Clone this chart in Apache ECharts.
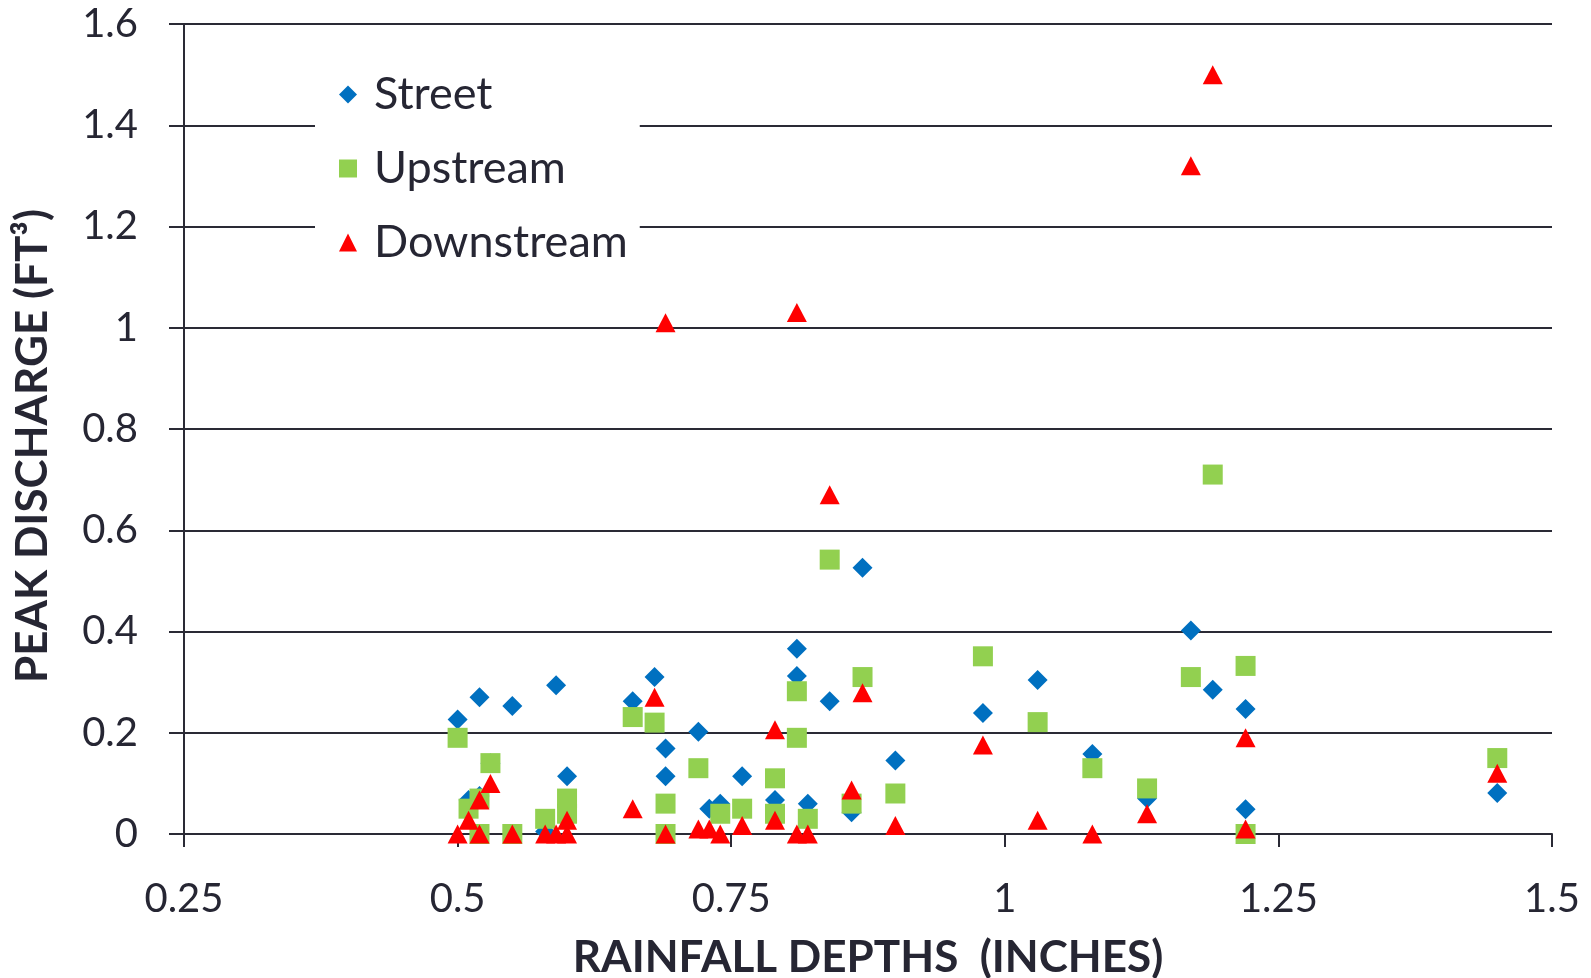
<!DOCTYPE html>
<html><head><meta charset="utf-8">
<script src="https://cdn.jsdelivr.net/npm/echarts@6/dist/echarts.min.js"></script>
<style>html,body{margin:0;padding:0;background:#fff}#c{width:1591px;height:978px}</style>
</head><body><div id="c"></div>
<script>
const seriesNames = ['Street', 'Upstream', 'Downstream'];
const streetX = [0.50,0.51,0.52,0.52,0.53,0.55,0.58,0.59,0.60,0.66,0.68,0.69,0.69,0.72,0.73,0.74,0.76,0.79,0.81,0.81,0.82,0.84,0.86,0.87,0.90,0.98,1.03,1.08,1.13,1.17,1.19,1.22,1.22,1.45];
const streetY = [0.226,0.067,0.075,0.27,0.14,0.253,0.005,0.294,0.114,0.262,0.31,0.169,0.114,0.202,0.05,0.06,0.114,0.067,0.366,0.312,0.06,0.262,0.043,0.526,0.145,0.239,0.304,0.158,0.07,0.402,0.285,0.247,0.049,0.081];
const upstreamX = [0.50,0.51,0.52,0.52,0.53,0.55,0.58,0.60,0.60,0.66,0.68,0.69,0.69,0.72,0.74,0.76,0.79,0.79,0.81,0.81,0.82,0.84,0.86,0.87,0.90,0.98,1.03,1.08,1.13,1.17,1.19,1.22,1.22,1.45];
const upstreamY = [0.19,0.05,0.07,0.0,0.14,0.0,0.03,0.07,0.04,0.231,0.22,0.06,0.0,0.13,0.04,0.05,0.11,0.04,0.282,0.19,0.03,0.542,0.06,0.31,0.08,0.351,0.221,0.13,0.09,0.31,0.71,0.332,0.0,0.15];
const downstreamX = [0.50,0.51,0.52,0.52,0.53,0.55,0.58,0.59,0.60,0.60,0.66,0.68,0.69,0.69,0.72,0.73,0.74,0.76,0.79,0.79,0.81,0.81,0.82,0.84,0.86,0.87,0.90,0.98,1.03,1.08,1.13,1.17,1.19,1.22,1.22,1.45];
const downstreamY = [0.0,0.027,0.067,0.0,0.10,0.0,0.0,0.0,0.0,0.027,0.05,0.27,1.01,0.0,0.01,0.01,0.0,0.017,0.206,0.027,1.03,0.0,0.0,0.67,0.087,0.279,0.017,0.176,0.027,0.0,0.04,1.32,1.5,0.19,0.01,0.12];
const xTicks = [0.25, 0.5, 0.75, 1, 1.25, 1.5];
const yTicks = [0, 0.2, 0.4, 0.6, 0.8, 1, 1.2, 1.4, 1.6];

const zip = (xs, ys) => xs.map((x, i) => [x, ys[i]]);
const lineCol = '#2a2a35';
const txtCol = '#262633';
const font = 'Lato, "Open Sans", sans-serif';

const chart = echarts.init(document.getElementById('c'), null, {renderer: 'canvas'});
chart.setOption({
  animation: false,
  backgroundColor: '#fff',
  grid: {left: 184, right: 39, top: 24, bottom: 144},
  xAxis: {
    type: 'value', min: xTicks[0], max: xTicks[xTicks.length - 1], interval: 0.25,
    axisLine: {onZero: false, lineStyle: {color: lineCol, width: 2}},
    axisTick: {show: true, length: 13, lineStyle: {color: lineCol, width: 2}},
    splitLine: {show: false},
    axisLabel: {color: txtCol, fontSize: 40, fontFamily: font, margin: 45}
  },
  yAxis: {
    type: 'value', min: yTicks[0], max: yTicks[yTicks.length - 1], interval: 0.2,
    axisLine: {show: true, lineStyle: {color: lineCol, width: 2}},
    axisTick: {show: true, length: 15, lineStyle: {color: lineCol, width: 2}},
    splitLine: {show: true, lineStyle: {color: lineCol, width: 2}},
    axisLabel: {color: txtCol, fontSize: 40, fontFamily: font, margin: 46}
  },
  legend: {
    orient: 'vertical', left: 315, top: 50,
    padding: [22, 12, 24, 24],
    backgroundColor: '#fff',
    itemGap: 29, itemWidth: 18, itemHeight: 18,
    textStyle: {color: txtCol, fontSize: 45, fontFamily: font, lineHeight: 45, padding: [0, 0, 0, 12]},
    data: [
      {name: 'Street', icon: 'diamond'},
      {name: 'Upstream', icon: 'rect'},
      {name: 'Downstream', icon: 'triangle'}
    ]
  },
  graphic: [
    {type: 'text', position: [868, 958], style: {text: 'RAINFALL DEPTHS  (INCHES)', fill: txtCol, font: 'bold 44px ' + font, textAlign: 'center', textVerticalAlign: 'middle'}},
    {type: 'text', rotation: Math.PI / 2, position: [33, 446], style: {text: 'PEAK DISCHARGE (FT³)', fill: txtCol, font: 'bold 44px ' + font, textAlign: 'center', textVerticalAlign: 'middle'}}
  ],
  series: [
    {name: seriesNames[0], type: 'scatter', symbol: 'diamond', symbolSize: 20, itemStyle: {color: '#0070C0', opacity: 1}, data: zip(streetX, streetY), z: 2},
    {name: seriesNames[1], type: 'scatter', symbol: 'rect', symbolSize: 20, itemStyle: {color: '#92D050', opacity: 1}, data: zip(upstreamX, upstreamY), z: 3},
    {name: seriesNames[2], type: 'scatter', symbol: 'triangle', symbolSize: [20, 19], itemStyle: {color: '#FF0000', opacity: 1}, data: zip(downstreamX, downstreamY), z: 4}
  ]
});
</script></body></html>
